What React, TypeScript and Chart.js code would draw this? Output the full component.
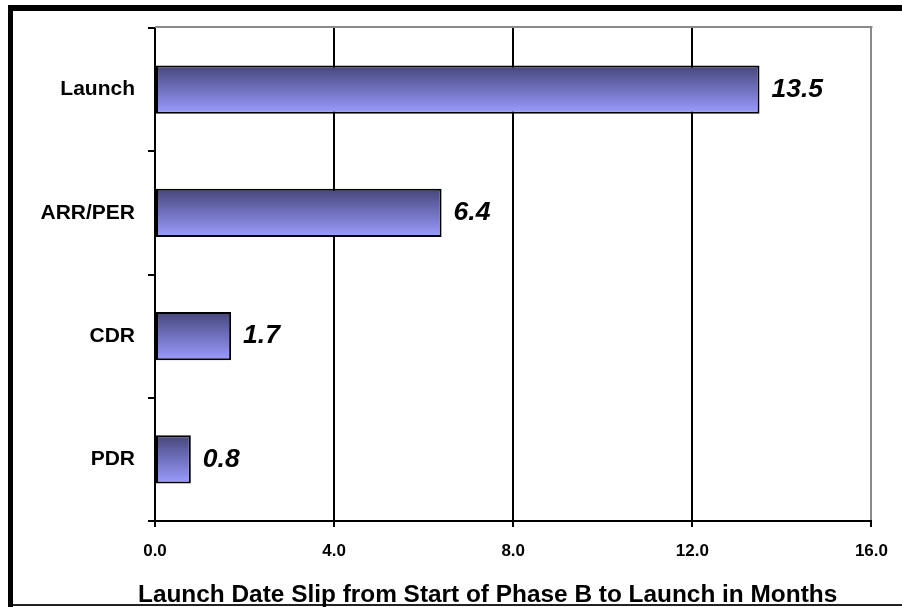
import React, { useEffect, useRef } from 'react';
import { Chart, registerables } from 'chart.js';

Chart.register(...registerables);

const categories = ['Launch', 'ARR/PER', 'CDR', 'PDR'];
const slipMonths = [13.5, 6.4, 1.7, 0.8];
const xTickValues = [0, 4, 8, 12, 16];
const xTitle = 'Launch Date Slip from Start of Phase B to Launch in Months';

const FONT = '"Liberation Sans", Arial, Helvetica, sans-serif';
const BAR_PCT = 0.39;

export default function App() {
  const ref = useRef<HTMLCanvasElement>(null);

  useEffect(() => {
    const canvas = ref.current;
    if (!canvas) return;

    const framePlugin = {
      id: 'frame',
      beforeDraw(chart: any) {
        const { ctx, width, height } = chart;
        ctx.save();
        ctx.fillStyle = '#ffffff';
        ctx.fillRect(0, 0, width, height);
        ctx.restore();
      },
      afterDraw(chart: any) {
        const { ctx, width, height, chartArea } = chart;
        ctx.save();
        ctx.fillStyle = '#000000';
        ctx.fillRect(8, 5, width - 8, 6);
        ctx.fillRect(8, 5, 5, height - 5);
        ctx.fillStyle = '#222222';
        ctx.fillRect(13, height - 3, width - 13, 2);
        ctx.strokeStyle = '#8a8a8a';
        ctx.lineWidth = 2;
        ctx.beginPath();
        ctx.moveTo(chartArea.left, chartArea.top - 1);
        ctx.lineTo(chartArea.right + 1, chartArea.top - 1);
        ctx.stroke();
        ctx.fillStyle = '#000000';
        ctx.font = `bold 24.4px ${FONT}`;
        ctx.textAlign = 'left';
        ctx.textBaseline = 'alphabetic';
        ctx.fillText(xTitle, chartArea.left - 17, 602);
        ctx.restore();
      },
    };

    const valueLabels = {
      id: 'valueLabels',
      afterDatasetsDraw(chart: any) {
        const { ctx } = chart;
        const meta = chart.getDatasetMeta(0);
        ctx.save();
        ctx.fillStyle = '#000000';
        ctx.font = `italic bold 26.5px ${FONT}`;
        ctx.textAlign = 'left';
        ctx.textBaseline = 'middle';
        meta.data.forEach((bar: any, i: number) => {
          const { x, y } = bar.getProps(['x', 'y'], true);
          ctx.fillText(slipMonths[i].toFixed(1), x + 12, y);
        });
        ctx.restore();
      },
    };

    const chart = new Chart(canvas, {
      type: 'bar',
      data: {
        labels: categories,
        datasets: [
          {
            data: slipMonths,
            backgroundColor: (c: any) => {
              const chartObj = c.chart;
              const yScale = chartObj.scales?.y;
              if (!yScale || c.dataIndex === undefined) return '#7777cc';
              const center = yScale.getPixelForValue(c.dataIndex);
              const size = (yScale.height / categories.length) * BAR_PCT;
              if (!isFinite(center) || !isFinite(size) || size <= 0) return '#7777cc';
              const g = chartObj.ctx.createLinearGradient(0, center - size / 2, 0, center + size / 2);
              g.addColorStop(0, '#46467a');
              g.addColorStop(0.45, '#6c6cb8');
              g.addColorStop(1, '#9c9cff');
              return g;
            },
            borderColor: '#000000',
            borderWidth: 2,
            borderSkipped: false,
            barPercentage: BAR_PCT,
            categoryPercentage: 1,
          },
        ],
      },
      options: {
        indexAxis: 'y',
        responsive: false,
        devicePixelRatio: 1,
        animation: false,
        layout: { padding: { top: 28, right: 30, bottom: 0, left: 0 } },
        plugins: {
          legend: { display: false },
          tooltip: { enabled: false },
          title: { display: false },
        },
        scales: {
          x: {
            type: 'linear',
            min: 0,
            max: 16,
            afterBuildTicks: (scale: any) => {
              scale.ticks = xTickValues.map((v) => ({ value: v }));
            },
            afterFit: (scale: any) => {
              scale.height = 86;
            },
            ticks: {
              color: '#000000',
              font: { family: FONT, size: 17, weight: 'bold' },
              padding: 14,
              callback: (v: any) => Number(v).toFixed(1),
            },
            grid: {
              color: (c: any) => (c.tick && c.tick.value === 16 ? '#8a8a8a' : '#000000'),
              lineWidth: 2,
              tickLength: 6,
              tickColor: '#000000',
            },
            border: { color: '#000000', width: 2 },
          },
          y: {
            type: 'category',
            afterFit: (scale: any) => {
              scale.width = 155;
            },
            ticks: {
              color: '#000000',
              font: { family: FONT, size: 21, weight: 'bold' },
              padding: 13,
            },
            grid: {
              drawOnChartArea: false,
              drawTicks: true,
              tickLength: 7,
              color: '#000000',
              lineWidth: 2,
              offset: true,
            },
            border: { color: '#000000', width: 2 },
          },
        },
      },
      plugins: [framePlugin, valueLabels],
    } as any);

    return () => chart.destroy();
  }, []);

  return (
    <div style={{ position: 'absolute', left: 0, top: 0, width: 902, height: 607, background: '#ffffff' }}>
      <canvas ref={ref} width={902} height={607} style={{ display: 'block' }} />
    </div>
  );
}
